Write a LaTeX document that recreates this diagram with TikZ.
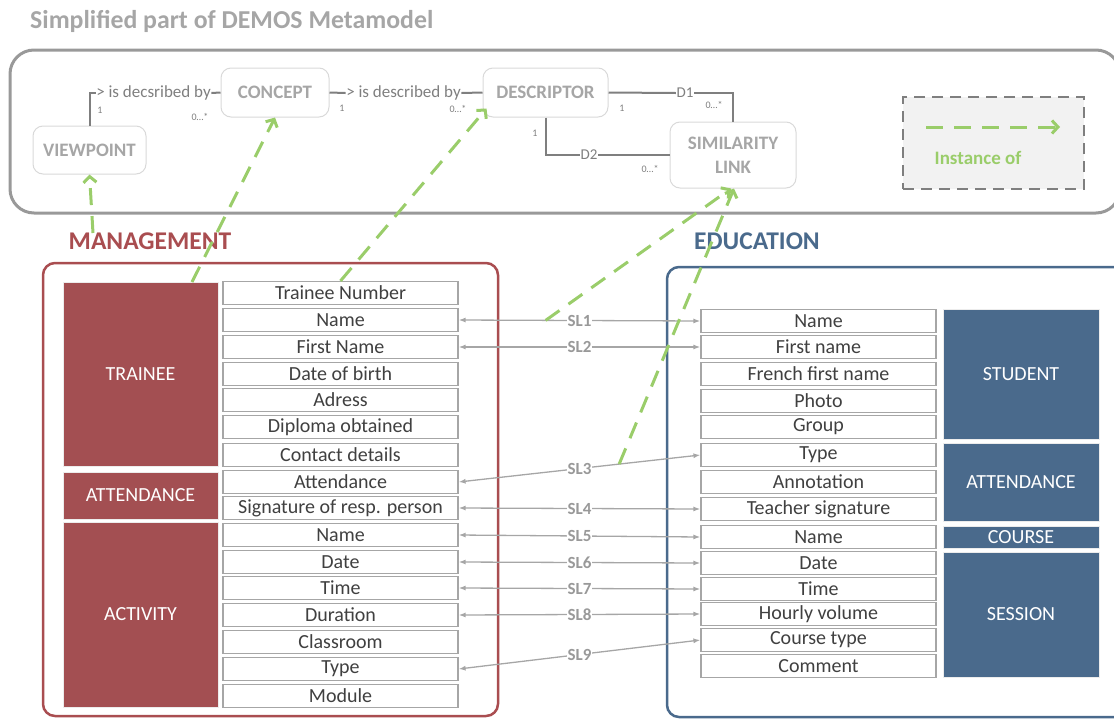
\documentclass[tikz,border=0pt]{standalone}
\usepackage{fontspec}
\setmainfont{Carlito}
\usetikzlibrary{arrows.meta}
\definecolor{mred}{HTML}{A34F52}
\definecolor{mredline}{HTML}{A94D50}
\definecolor{mblue}{HTML}{4A6A8C}
\definecolor{igreen}{HTML}{9ACD6A}
\definecolor{lgray}{HTML}{A6A6A6}
\definecolor{dgray}{HTML}{7F7F7F}
\definecolor{mgray}{HTML}{999999}
\definecolor{tgray}{HTML}{404040}
\definecolor{legfill}{HTML}{F2F2F2}
\definecolor{nodeborder}{HTML}{D9D9D9}
\begin{document}
\begin{tikzpicture}[x=1pt,y=-1pt,
  attr/.style={draw=lgray, line width=1.2pt, fill=white, minimum width=235pt, minimum height=23pt, inner sep=0pt, text=tgray, font=\fontsize{20}{20}\selectfont},
  cat/.style={fill=#1, draw=white!85!gray, line width=0.8pt, minimum width=155pt, inner sep=0pt, text=white, font=\fontsize{20}{20}\selectfont},
  meta/.style={draw=nodeborder, line width=1pt, rounded corners=10pt, fill=white, text=lgray, font=\bfseries\fontsize{19}{24}\selectfont, align=center, inner sep=0pt},
  rel/.style={draw=dgray, line width=2pt},
  rellab/.style={fill=white, inner sep=0.5pt, text=dgray, font=\fontsize{17}{17}\selectfont},
  mult/.style={text=dgray, font=\fontsize{10}{10}\selectfont, inner sep=0pt},
  inst/.style={draw=igreen, line width=3pt, dash pattern=on 17pt off 11pt, -{Straight Barb[length=6pt,width=13pt]}},
  sl/.style={draw=lgray, line width=1.3pt, {Latex[length=7pt,width=5pt]}-{Latex[length=7pt,width=5pt]}},
  sllab/.style={fill=white, inner sep=1pt, text=mgray, font=\bfseries\fontsize{17}{17}\selectfont},
  heading/.style={font=\bfseries\fontsize{25.5}{25.5}\selectfont, inner sep=0pt},
]
\useasboundingbox (0,0) rectangle (1114,718);

% title
\node[anchor=west, text=lgray, font=\bfseries\fontsize{25.8}{26}\selectfont, inner sep=0pt] (title) at (30,21) {Simplified part of DEMOS Metamodel};

% metamodel frame
\draw[draw=mgray, line width=3pt, rounded corners=24pt] (10,50) rectangle (1120,213);

% metamodel nodes
\node[meta, minimum width=113pt, minimum height=48pt] (vp) at (89.5,150) {VIEWPOINT};
\node[meta, minimum width=108pt, minimum height=49pt] (concept) at (275,92.5) {CONCEPT};
\node[meta, minimum width=125pt, minimum height=49pt] (desc) at (545.5,92.5) {DESCRIPTOR};
\node[meta, minimum width=126pt, minimum height=66pt] (simlink) at (733,155) {SIMILARITY\\LINK};

% relations
\node[rellab] (r1) at (153.5,93) {> is decsribed by};
\draw[rel] (vp.north) |- (r1.west);
\draw[rel] (r1.east) -- (concept.west);
\node[rellab] (r2) at (403.5,93) {> is described by};
\draw[rel] (concept.east) -- (r2.west);
\draw[rel] (r2.east) -- (desc.west);
\node[rellab, font=\fontsize{15}{15}\selectfont] (d1) at (685,93) {D1};
\draw[rel] (desc.east) -- (d1.west);
\draw[rel] (d1.east) -| (simlink.north);
\node[rellab, font=\fontsize{15}{15}\selectfont] (d2) at (589,155) {D2};
\draw[rel] (desc.south) |- (d2.west);
\draw[rel] (d2.east) -- (simlink.west);

% multiplicities
\node[mult] (m1) at (100,110) {1};
\node[mult] (m2) at (200,117) {0…*};
\node[mult] (m3) at (342,108) {1};
\node[mult] (m4) at (458,109) {0…*};
\node[mult] (m5) at (622,108) {1};
\node[mult] (m6) at (714,105) {0…*};
\node[mult] (m7) at (535,133) {1};
\node[mult] (m8) at (650,169) {0…*};

% legend
\node[draw=dgray, line width=2pt, dash pattern=on 11pt off 7pt, fill=legfill, minimum width=181pt, minimum height=92pt] (legend) at (993.5,143) {};
\coordinate (la) at (926,127);
\coordinate (lb) at (1060,127);
\draw[inst] (la) -- (lb);
\node[text=igreen, font=\bfseries\fontsize{19}{19}\selectfont] (legtext) at (978,158) {Instance of};

% headings
\node[heading, text=mredline] (mgmt) at (150,241) {MANAGEMENT};
\node[heading, text=mblue] (edu) at (757,241) {EDUCATION};

% containers
\node[draw=mredline, line width=2.5pt, rounded corners=12pt, minimum width=455pt, minimum height=453pt] (mgmtbox) at (270.5,489.5) {};
\node[draw=mblue, line width=2.5pt, rounded corners=12pt, minimum width=463pt, minimum height=450pt] (edubox) at (898.5,492) {};

% management categories
\node[cat=mred, minimum height=184pt] (trainee) at (140.5,374) {TRAINEE};
\node[cat=mred, minimum height=47pt] (lattend) at (140.5,495.5) {ATTENDANCE};
\node[cat=mred, minimum height=185pt] (activity) at (140.5,614.5) {ACTIVITY};

% management attributes
\node[attr] (la1) at (340.5,293) {Trainee Number};
\node[attr] (la2) at (340.5,320) {Name};
\node[attr] (la3) at (340.5,347) {First Name};
\node[attr] (la4) at (340.5,374) {Date of birth};
\node[attr] (la5) at (340.5,400) {Adress};
\node[attr] (la6) at (340.5,427) {Diploma obtained};
\node[attr] (la7) at (340.5,455) {Contact details};
\node[attr] (la8) at (340.5,482) {Attendance};
\node[attr] (la9) at (340.5,508) {Signature of resp. person};
\node[attr] (la10) at (340.5,535) {Name};
\node[attr] (la11) at (340.5,562) {Date};
\node[attr] (la12) at (340.5,588) {Time};
\node[attr] (la13) at (340.5,615) {Duration};
\node[attr] (la14) at (340.5,642) {Classroom};
\node[attr] (la15) at (340.5,669) {Type};
\node[attr] (la16) at (340.5,696) {Module};

% education categories
\node[cat=mblue, minimum width=156pt, minimum height=130pt] (student) at (1021,374) {STUDENT};
\node[cat=mblue, minimum width=156pt, minimum height=78pt] (rattend) at (1021,482) {ATTENDANCE};
\node[cat=mblue, minimum width=156pt, minimum height=22pt] (course) at (1021,537) {COURSE};
\node[cat=mblue, minimum width=156pt, minimum height=125pt] (session) at (1021,614.5) {SESSION};

% education attributes
\node[attr] (ra1) at (818.5,321) {Name};
\node[attr] (ra2) at (818.5,347) {First name};
\node[attr] (ra3) at (818.5,374) {French first name};
\node[attr] (ra4) at (818.5,401) {Photo};
\node[attr] (ra5) at (818.5,427) {Group};
\node[attr] (ra6) at (818.5,455) {Type};
\node[attr] (ra7) at (818.5,482) {Annotation};
\node[attr] (ra8) at (818.5,509) {Teacher signature};
\node[attr] (ra9) at (818.5,537) {Name};
\node[attr] (ra10) at (818.5,563) {Date};
\node[attr] (ra11) at (818.5,589) {Time};
\node[attr] (ra12) at (818.5,614) {Hourly volume};
\node[attr] (ra13) at (818.5,640) {Course type};
\node[attr] (ra14) at (818.5,666) {Comment};

% similarity links
\draw[sl] (la2.east) -- coordinate[pos=0.36] (sl1g) (ra1.west) node[sllab, pos=0.5] {SL1};
\draw[sl] (la3.east) -- (ra2.west) node[sllab, pos=0.5] {SL2};
\draw[sl] (la8.east) -- coordinate[pos=0.664] (sl3g) (ra6.west) node[sllab, pos=0.5] {SL3};
\draw[sl] (la9.east) -- (ra8.west) node[sllab, pos=0.5] {SL4};
\draw[sl] (la10.east) -- (ra9.west) node[sllab, pos=0.5] {SL5};
\draw[sl] (la11.east) -- (ra10.west) node[sllab, pos=0.5] {SL6};
\draw[sl] (la12.east) -- (ra11.west) node[sllab, pos=0.5] {SL7};
\draw[sl] (la13.east) -- (ra12.west) node[sllab, pos=0.5] {SL8};
\draw[sl] (la15.east) -- (ra13.west) node[sllab, pos=0.5] {SL9};

% instance-of arrows
\coordinate (mg) at (93,233);
\coordinate (tg) at (192,282);
\draw[inst] (mg) -- (vp.south);
\draw[inst] (tg) -- (concept.south);
\draw[inst] (la1.north) -- ([shift={(4,-9)}]desc.south west);
\draw[inst] (sl1g) -- ([xshift=-2pt]simlink.south);
\draw[inst] (sl3g) -- ([xshift=1pt]simlink.south);
\end{tikzpicture}
\end{document}
